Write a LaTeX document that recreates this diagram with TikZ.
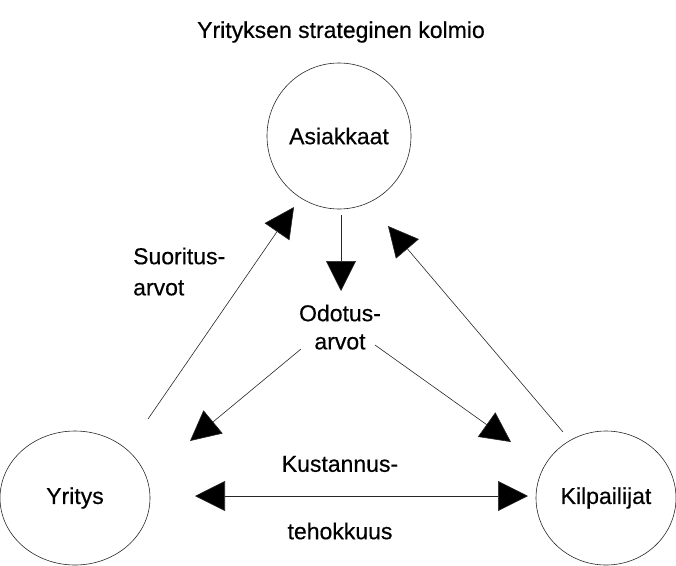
\documentclass[tikz,border=0pt]{standalone}
\usepackage{fontspec}
\setmainfont[FakeBold=0.4]{Liberation Sans}
\usetikzlibrary{arrows.meta,shapes.geometric}
\begin{document}
\begin{tikzpicture}[x=1pt,y=-1pt,
  every node/.style={font=\fontsize{23}{28}\selectfont},
  party/.style={draw=black!85, ellipse, line width=0.6pt, inner sep=0pt},
  flow/.style={draw=black!85, line width=0.6pt, -{Triangle[length=30pt,width=30pt,fill=black]}},
  flow2/.style={draw=black!85, line width=0.6pt, {Triangle[length=30pt,width=30pt,fill=black]}-{Triangle[length=30pt,width=30pt,fill=black]}},
  lbl/.style={inner sep=0pt, anchor=center}]
\useasboundingbox (0,0) rectangle (676,565);

% title
\node[lbl] (title) at (341,32) {Yrityksen strateginen kolmio};

% the three parties
\node[party, minimum width=144pt, minimum height=146pt] (asi) at (339,136) {Asiakkaat};
\node[party, minimum width=150pt, minimum height=134pt] (yri) at (75,498) {Yritys};
\node[party, minimum width=140pt, minimum height=134pt] (kil) at (606,498) {Kilpailijat};

% labels
\node[lbl, anchor=west] (suo1) at (133,256) {Suoritus-};
\node[lbl, anchor=west] (suo2) at (133,288) {arvot};
\node[lbl] (odo1) at (340,313) {Odotus-};
\node[lbl] (odo2) at (340,342) {arvot};
\node[lbl] (kus1) at (340,464) {Kustannus-};
\node[lbl] (kus2) at (340,531) {tehokkuus};

% connector end points
\coordinate (yA) at (148,419);
\coordinate (aY) at (294,207);
\coordinate (kA) at (563,432);
\coordinate (aK) at (388,226);
\coordinate (aO) at (341,215);
\coordinate (oTop) at (341,291);
\coordinate (oL) at (301,349);
\coordinate (yO) at (190,441);
\coordinate (oR) at (375,345);
\coordinate (kO) at (511,442);
\coordinate (yK) at (195,496);
\coordinate (kY) at (528,496);

\draw[flow] (yA) -- (aY);
\draw[flow] (kA) -- (aK);
\draw[flow] (aO) -- (oTop);
\draw[flow] (oL) -- (yO);
\draw[flow] (oR) -- (kO);
\draw[flow2] (yK) -- (kY);
\end{tikzpicture}
\end{document}
